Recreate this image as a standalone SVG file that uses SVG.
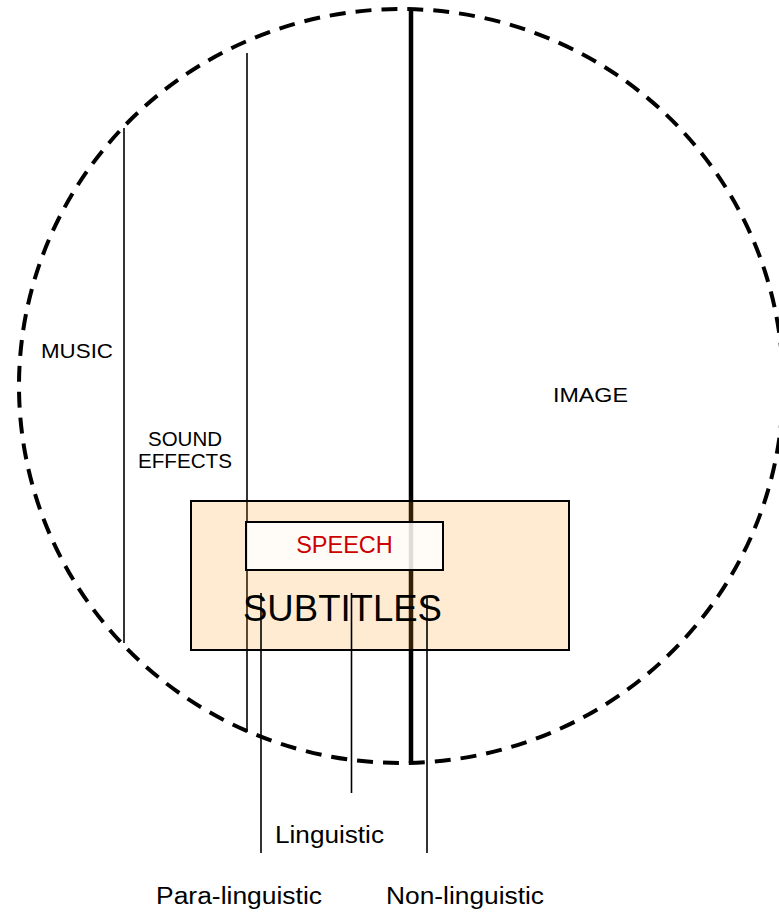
<svg xmlns="http://www.w3.org/2000/svg" width="779" height="914" viewBox="0 0 779 914">
  <style>
    .lbl { font-family: "Liberation Sans", Arial, sans-serif; fill: #000; }
    .thin { stroke: #000; stroke-width: 1.6; fill: none; }
  </style>
  <rect width="779" height="914" fill="#fff"/>

  <!-- outer dashed boundary -->
  <g id="boundary">
    <ellipse cx="401" cy="386" rx="382" ry="377" fill="none" stroke="#000" stroke-width="4" stroke-dasharray="16 10"/>
  </g>

  <!-- vertical dividers and leaders -->
  <g id="connectors">
    <line class="thin" x1="124" y1="128" x2="124" y2="643"/>
    <line class="thin" x1="247" y1="53" x2="247" y2="732"/>
    <line x1="411" y1="9" x2="411" y2="763" stroke="#000" stroke-width="4.5"/>
  </g>

  <!-- subtitles box (translucent so the dividers show through) -->
  <g id="subtitles">
    <rect x="191" y="501" width="378" height="149" fill="#FF9B1E" fill-opacity="0.2" stroke="#000" stroke-width="2"/>
    <text class="lbl" x="243" y="621" font-size="36" textLength="199" lengthAdjust="spacingAndGlyphs">SUBTITLES</text>
  </g>

  <g id="speech">
    <rect x="246" y="522" width="197" height="48" fill="#fff" fill-opacity="0.85" stroke="#000" stroke-width="2"/>
    <text class="lbl" x="344.5" y="553" font-size="23.5" text-anchor="middle" style="fill:#CC0000">SPEECH</text>
  </g>

  <!-- leaders to the bottom captions -->
  <g id="leaders">
    <line class="thin" x1="261" y1="593" x2="261" y2="853"/>
    <line class="thin" x1="351.5" y1="593" x2="351.5" y2="793"/>
    <line class="thin" x1="427" y1="597" x2="427" y2="853"/>
  </g>

  <g id="music">
    <text class="lbl" x="41" y="358" font-size="21" textLength="72" lengthAdjust="spacingAndGlyphs">MUSIC</text>
  </g>
  <g id="sound-effects">
    <text class="lbl" x="148" y="446" font-size="20" textLength="74" lengthAdjust="spacingAndGlyphs">SOUND</text>
    <text class="lbl" x="138" y="468" font-size="20" textLength="94" lengthAdjust="spacingAndGlyphs">EFFECTS</text>
  </g>
  <g id="image">
    <text class="lbl" x="553" y="402" font-size="21" textLength="75" lengthAdjust="spacingAndGlyphs">IMAGE</text>
  </g>
  <g id="linguistic">
    <text class="lbl" x="275" y="843" font-size="23" textLength="109" lengthAdjust="spacingAndGlyphs">Linguistic</text>
  </g>
  <g id="para-linguistic">
    <text class="lbl" x="156" y="904" font-size="23" textLength="166" lengthAdjust="spacingAndGlyphs">Para-linguistic</text>
  </g>
  <g id="non-linguistic">
    <text class="lbl" x="386" y="904" font-size="23" textLength="158" lengthAdjust="spacingAndGlyphs">Non-linguistic</text>
  </g>
</svg>
